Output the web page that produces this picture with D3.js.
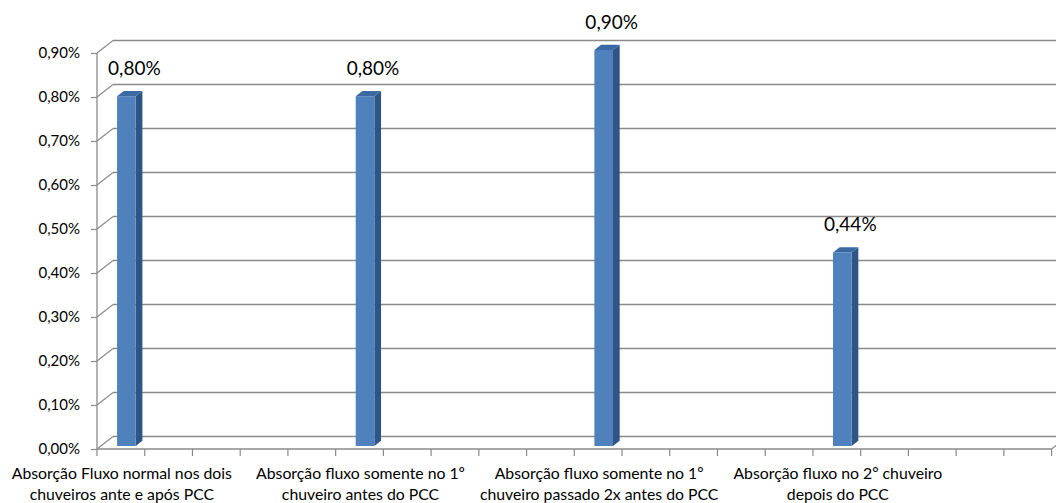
<!DOCTYPE html>
<html>
<head>
<meta charset="utf-8">
<script src="https://cdn.jsdelivr.net/npm/d3@7"></script>
<style>
  html, body { margin: 0; padding: 0; background: #fff; }
  svg { display: block; }
  text { font-family: Lato, "Liberation Sans", sans-serif; fill: #000; }
</style>
</head>
<body>
<svg id="chart" width="1056" height="503"></svg>
<script>
// ---- data ----
const categories = [
  ["Absorção Fluxo normal nos dois", "chuveiros ante e após PCC"],
  ["Absorção fluxo somente no 1º", "chuveiro antes do PCC"],
  ["Absorção fluxo somente no 1º", "chuveiro passado 2x antes do PCC"],
  ["Absorção fluxo no 2º chuveiro", "depois do PCC"]
];
const values = [0.795, 0.795, 0.90, 0.44];   // percent
const yTicks = [0, 0.1, 0.2, 0.3, 0.4, 0.5, 0.6, 0.7, 0.8, 0.9];
const slotCount = 20;        // category axis slots (ticks)
const slotsPerCategory = 5;  // one labelled category every 5 slots

// ---- layout ----
const svg = d3.select("#chart");
const W = 1056, H = 503;
const x0 = 97, x1 = 1051.6, yBase = 449, yTop = 53;
const depth = { dx: 16, dy: -12.5 };   // floor/wall depth projection
const barDepthStart = 0.24, barDepthSize = 0.42;
const gridColor = "#8a8a8a";

const y = d3.scaleLinear().domain([0, 0.9]).range([yBase, yTop]);
const xSlot = d3.scaleBand().domain(d3.range(slotCount)).range([x0, x1]);
const bw = xSlot.bandwidth();

const loc = d3.formatLocale({ decimal: ",", thousands: ".", grouping: [3], currency: ["", ""] });
const fmt = v => loc.format(".2f")(v) + "%";

// back wall gridlines
const g = svg.append("g");
g.selectAll("line.grid").data(yTicks).join("line")
  .attr("class", "grid")
  .attr("x1", x0 + depth.dx).attr("x2", W + 20)
  .attr("y1", d => y(d) + depth.dy).attr("y2", d => y(d) + depth.dy)
  .attr("stroke", gridColor).attr("stroke-width", 1.4);
// left wall diagonals
g.selectAll("line.diag").data(yTicks).join("line")
  .attr("class", "diag")
  .attr("x1", x0).attr("x2", x0 + depth.dx)
  .attr("y1", d => y(d)).attr("y2", d => y(d) + depth.dy)
  .attr("stroke", gridColor).attr("stroke-width", 1.2);
// floor front edge and right diagonal
g.append("line").attr("x1", x0).attr("x2", x1).attr("y1", yBase).attr("y2", yBase)
  .attr("stroke", gridColor).attr("stroke-width", 1.3);
g.append("line").attr("x1", x1).attr("x2", x1 + depth.dx).attr("y1", yBase).attr("y2", yBase + depth.dy)
  .attr("stroke", gridColor).attr("stroke-width", 1.2);
// y axis line
g.append("line").attr("x1", x0).attr("x2", x0).attr("y1", yBase).attr("y2", yTop)
  .attr("stroke", gridColor).attr("stroke-width", 1.3);

// y axis ticks + labels via d3 axis
const yAxis = d3.axisLeft(y).tickValues(yTicks).tickFormat(fmt).tickSize(6).tickPadding(11);
const ya = svg.append("g").attr("transform", `translate(${x0},0)`).call(yAxis);
ya.select(".domain").remove();
ya.selectAll(".tick line").attr("stroke", gridColor).attr("stroke-width", 1.2);
ya.selectAll(".tick text").attr("font-size", 15).attr("font-family", "Lato, sans-serif").attr("fill", "#000");

// x axis ticks
const xTicks = d3.range(slotCount + 1).map(i => i === slotCount ? x1 : xSlot(i));
svg.append("g").selectAll("line").data(xTicks).join("line")
  .attr("x1", d => d).attr("x2", d => d)
  .attr("y1", yBase).attr("y2", yBase + 7)
  .attr("stroke", gridColor).attr("stroke-width", 1.2);

// category labels
const cat = svg.append("g").selectAll("text").data(categories).join("text")
  .attr("text-anchor", "middle")
  .attr("font-size", 15.8)
  .attr("x", (d, i) => xSlot(i * slotsPerCategory) + bw / 2 + 1)
  .attr("y", 479);
cat.selectAll("tspan").data(d => d).join("tspan")
  .attr("x", function () { return d3.select(this.parentNode).attr("x"); })
  .attr("dy", (d, i) => i === 0 ? 0 : 21)
  .text(d => d);

// bars (3D columns)
const bars = svg.append("g").selectAll("g").data(values).join("g");
const fx = 0.34, fw = 0.39;
bars.each(function (v, i) {
  const gg = d3.select(this);
  const ox = depth.dx * barDepthStart, oy = depth.dy * barDepthStart;
  const ddx = depth.dx * barDepthSize, ddy = depth.dy * barDepthSize;
  const left = xSlot(i * slotsPerCategory) + bw * fx + ox;
  const right = left + bw * fw;
  const top = y(v) + oy, bot = y(0) + oy;
  // side
  gg.append("path")
    .attr("d", `M${right},${bot}L${right + ddx},${bot + ddy}L${right + ddx},${top + ddy}L${right},${top}Z`)
    .attr("fill", "#2f5486");
  // top
  gg.append("path")
    .attr("d", `M${left},${top}L${left + ddx},${top + ddy}L${right + ddx},${top + ddy}L${right},${top}Z`)
    .attr("fill", "#3b69a3");
  // front
  gg.append("rect")
    .attr("x", left).attr("y", top).attr("width", right - left).attr("height", bot - top)
    .attr("fill", "#4f81bd");
  // data label
  gg.append("text")
    .attr("text-anchor", "middle")
    .attr("font-size", 19)
    .attr("x", (left + right) / 2 + 8)
    .attr("y", top - 21)
    .text(fmt(v));
});
</script>
</body>
</html>
